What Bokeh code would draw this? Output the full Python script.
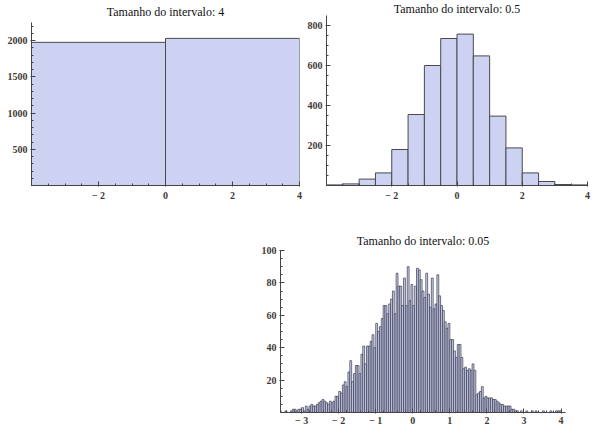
import numpy as np
from bokeh.plotting import figure
from bokeh.layouts import column, row
from bokeh.models import FixedTicker, ColumnDataSource, Spacer, Label
from bokeh.embed import file_html
from bokeh.resources import INLINE

# ---------------- data ----------------
titles = ["Tamanho do intervalo: 4", "Tamanho do intervalo: 0.5", "Tamanho do intervalo: 0.05"]

bin_start_a = -4.0
bin_width_a = 4.0
counts_a = [1976, 2031]

bin_start_b = -4.0
bin_width_b = 0.5
counts_b = [3, 8, 32, 63, 180, 355, 600, 735, 757, 648, 347, 188, 63, 20, 5, 3]

bin_start_c = -4.0
bin_width_c = 0.05
counts_c = [
    0, 0, 0, 0, 0, 0, 0, 0, 1, 0,
    0, 1, 0, 0, 1, 2, 2, 1, 2, 2,
    3, 1, 4, 2, 4, 5, 4, 4, 5, 6,
    7, 8, 7, 6, 5, 7, 6, 7, 10, 10,
    13, 12, 17, 19, 16, 25, 32, 19, 24, 29,
    29, 24, 36, 41, 30, 41, 41, 44, 48, 40,
    55, 50, 53, 58, 66, 66, 61, 67, 70, 75,
    61, 86, 78, 78, 66, 83, 66, 90, 69, 79,
    66, 78, 89, 88, 82, 75, 71, 86, 73, 65,
    83, 64, 67, 85, 72, 66, 63, 56, 52, 55,
    45, 45, 38, 34, 42, 42, 34, 27, 28, 26,
    27, 26, 30, 26, 11, 12, 13, 16, 9, 10,
    9, 9, 9, 8, 8, 7, 6, 5, 5, 4,
    4, 4, 4, 2, 2, 1, 1, 0, 1, 0,
    0, 1, 0, 0, 1, 0, 1, 0, 0, 0,
    1, 0, 0, 0, 1, 0, 0, 1, 1, 1,
]

xticks_top = [-2, 0, 2, 4]
yticks_a = [500, 1000, 1500, 2000]
yticks_b = [200, 400, 600, 800]
xticks_c = [-3, -2, -1, 0, 1, 2, 3, 4]
yticks_c = [20, 40, 60, 80, 100]

FILL = "#cdd2f3"
EDGE = "#4a4a4a"
AXC = "#454545"
LABC = "#3f3a36"
SERIF = "Liberation Serif"


def hist_source(start, width, counts):
    counts = np.asarray(counts, dtype=float)
    left = start + width * np.arange(len(counts))
    return ColumnDataSource(dict(left=left, right=left + width, top=counts,
                                 bottom=np.zeros_like(counts)))


def make_fig(width, height, xr, yr, title, mbl, mbr, mbt, mbb, standoff):
    p = figure(width=width, height=height, x_range=xr, y_range=yr,
               output_backend="svg", toolbar_location=None, title=title,
               min_border_left=mbl, min_border_right=mbr,
               min_border_top=mbt, min_border_bottom=mbb)
    if title is not None:
        p.title.text_font = SERIF
        p.title.text_font_style = "normal"
        p.title.text_font_size = "12px"
        p.title.text_color = "#111111"
        p.title.align = "center"
        p.title.standoff = standoff
    p.xgrid.visible = False
    p.ygrid.visible = False
    p.outline_line_color = None
    p.background_fill_color = "white"
    p.border_fill_color = "white"
    for ax in (p.xaxis[0], p.yaxis[0]):
        ax.axis_line_color = AXC
        ax.axis_line_width = 1
        ax.major_tick_line_color = AXC
        ax.minor_tick_line_color = AXC
        ax.major_tick_in = 4
        ax.major_tick_out = 1
        ax.minor_tick_in = 2
        ax.minor_tick_out = 0
        ax.major_label_text_font = SERIF
        ax.major_label_text_font_size = "10px"
        ax.major_label_text_font_style = "bold"
        ax.major_label_text_color = LABC
        ax.major_label_standoff = 3
    return p


def inner_title(p, x, y, text):
    p.add_layout(Label(x=x, y=y, text=text, text_align="center",
                       text_baseline="middle", text_font=SERIF,
                       text_font_size="12px", text_color="#111111"))


minus = {-3: "\u2212 3", -2: "\u2212 2", -1: "\u2212 1"}

# top-left (title drawn inside an extended frame; axis stops at 2250)
p1 = make_fig(304, 205, (-4, 4), (0, 2526), None, 31, 5, 2, 20, 0)
p1.quad(left="left", right="right", top="top", bottom="bottom",
        source=hist_source(bin_start_a, bin_width_a, counts_a),
        fill_color=FILL, line_color=EDGE, line_width=1)
p1.xaxis[0].ticker = FixedTicker(ticks=xticks_top, minor_ticks=list(np.arange(-4, 4.01, 0.5)))
p1.yaxis[0].ticker = FixedTicker(ticks=yticks_a, minor_ticks=list(np.arange(0, 2250, 100)))
p1.yaxis[0].bounds = (0, 2250)
p1.xaxis[0].major_label_overrides = minus
inner_title(p1, 0, 2388, titles[0])

# top-right
p2 = make_fig(287, 205, (-4, 4), (0, 915), None, 20, 4, 2, 20, 0)
p2.quad(left="left", right="right", top="top", bottom="bottom",
        source=hist_source(bin_start_b, bin_width_b, counts_b),
        fill_color=FILL, line_color=EDGE, line_width=1)
p2.xaxis[0].ticker = FixedTicker(ticks=xticks_top, minor_ticks=list(np.arange(-4, 4.01, 0.5)))
p2.yaxis[0].ticker = FixedTicker(ticks=yticks_b, minor_ticks=list(np.arange(0, 850, 50)))
p2.yaxis[0].bounds = (0, 850)
p2.xaxis[0].major_label_overrides = minus
inner_title(p2, 0, 885, titles[1])

# bottom
p3 = make_fig(320, 223, (-3.57, 4.12), (0, 100), titles[2], 30, 5, 45, 14, 6)
p3.quad(left="left", right="right", top="top", bottom="bottom",
        source=hist_source(bin_start_c, bin_width_c, counts_c),
        fill_color=FILL, line_color="#3a3a4a", line_width=0.7)
p3.xaxis[0].ticker = FixedTicker(ticks=xticks_c, minor_ticks=list(np.arange(-3.4, 4.11, 0.2)))
p3.yaxis[0].ticker = FixedTicker(ticks=yticks_c, minor_ticks=list(np.arange(0, 101, 5)))
p3.xaxis[0].major_label_overrides = minus
p3.xaxis[0].major_label_standoff = 1

layout = column(row(p1, p2), row(Spacer(width=250, height=223), p3))

open("out.html", "w").write(file_html(layout, INLINE))
